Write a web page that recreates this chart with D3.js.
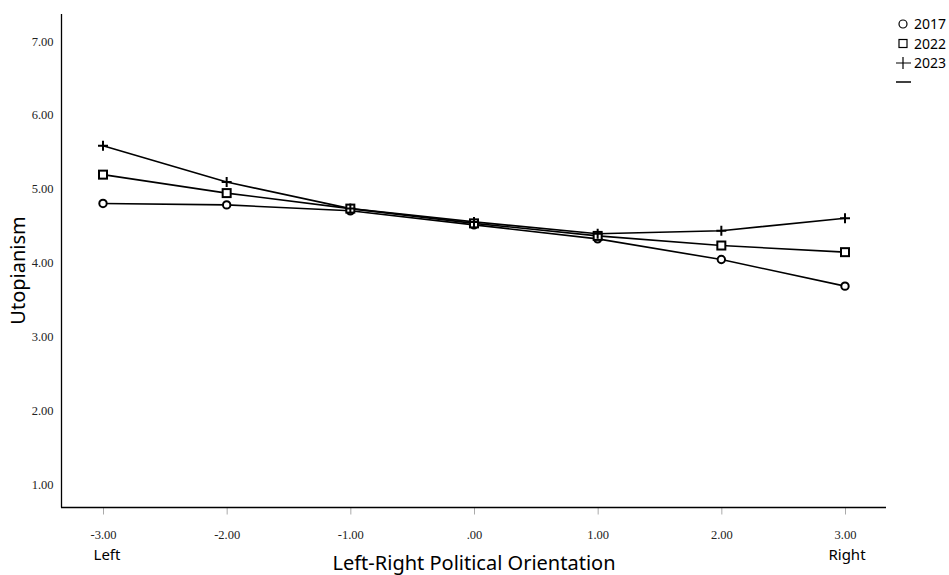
<!DOCTYPE html>
<html>
<head>
<meta charset="utf-8">
<script src="https://cdn.jsdelivr.net/npm/d3@7"></script>
<style>
  body { margin: 0; background: #fff; }
  svg { display: block; }
</style>
</head>
<body>
<svg id="chart" width="949" height="575"></svg>
<script>
// data
const xValues = [-3, -2, -1, 0, 1, 2, 3]
const years = ["2017", "2022", "2023"]
const v2017 = [4.80, 4.78, 4.70, 4.51, 4.32, 4.04, 3.68]
const v2022 = [5.19, 4.94, 4.73, 4.53, 4.36, 4.23, 4.14]
const v2023 = [5.58, 5.09, 4.73, 4.55, 4.39, 4.43, 4.60]
const yTicks = [1, 2, 3, 4, 5, 6, 7]

const svg = d3.select("#chart")
const margin = { left: 61, top: 14, right: 63, bottom: 68 }
const width = 949, height = 575

const xScale = d3.scaleLinear().domain([-3, 3]).range([103, 845])
const yScale = d3.scaleLinear().domain([1, 7]).range([484, 41])

const series = [
    { name: years[0], values: v2017, shape: "circle" },
    { name: years[1], values: v2022, shape: "square" },
    { name: years[2], values: v2023, shape: "plus" }
]

// SPSS style labels: plain hyphen, no leading zero
const fmt = d => d3.format(".2f")(d).replace("−", "-").replace(/^0\./, ".")

// axes
const xAxis = svg.append("g")
    .attr("transform", "translate(0," + (height - margin.bottom + 0.5) + ")")
    .call(d3.axisBottom(xScale).tickValues(xValues).tickSize(7).tickSizeOuter(0).tickFormat(fmt))
xAxis.select(".domain").remove()
xAxis.selectAll(".tick line").attr("stroke", "#aaa")
xAxis.selectAll(".tick text")
    .attr("y", 23)
    .attr("font-family", "'Liberation Serif', 'Times New Roman', serif")
    .attr("font-size", 12.5)
    .attr("fill", "#222")

const yAxis = svg.append("g")
    .attr("transform", "translate(" + (margin.left + 0.5) + ",0)")
    .call(d3.axisLeft(yScale).tickValues(yTicks).tickSize(0).tickFormat(fmt))
yAxis.select(".domain").remove()
yAxis.selectAll(".tick text")
    .attr("x", -8)
    .attr("font-family", "'Liberation Serif', 'Times New Roman', serif")
    .attr("font-size", 12.5)
    .attr("fill", "#222")

// frame lines
svg.append("line")
    .attr("x1", margin.left + 0.5).attr("x2", margin.left + 0.5)
    .attr("y1", margin.top).attr("y2", height - margin.bottom + 0.5)
    .attr("stroke", "#000").attr("stroke-width", 1.3)
svg.append("line")
    .attr("x1", margin.left).attr("x2", width - margin.right)
    .attr("y1", height - margin.bottom + 0.5).attr("y2", height - margin.bottom + 0.5)
    .attr("stroke", "#000").attr("stroke-width", 1.3)

// lines
const line = d3.line()
    .x((d, i) => xScale(xValues[i]))
    .y(d => yScale(d))

series.forEach(s => {
    svg.append("path")
        .datum(s.values)
        .attr("fill", "none")
        .attr("stroke", "#000")
        .attr("stroke-width", 1.6)
        .attr("d", line)
})

function drawMarker(g, shape, x, y) {
    if (shape == "circle") {
        g.append("circle").attr("cx", x).attr("cy", y).attr("r", 3.7)
            .attr("fill", "#fff").attr("stroke", "#000").attr("stroke-width", 2)
    } else if (shape == "square") {
        g.append("rect").attr("x", x - 4).attr("y", y - 4).attr("width", 8).attr("height", 8)
            .attr("fill", "#fff").attr("stroke", "#000").attr("stroke-width", 2)
    } else {
        g.append("path").attr("d", "M" + (x - 5) + "," + y + "H" + (x + 5) + "M" + x + "," + (y - 5) + "V" + (y + 5))
            .attr("stroke", "#000").attr("stroke-width", 2)
    }
}

series.forEach(s => {
    const g = svg.append("g")
    s.values.forEach((v, i) => drawMarker(g, s.shape, xScale(xValues[i]), yScale(v)))
})

// legend
const legend = svg.append("g")
series.forEach((s, i) => {
    const y = 24 + i * 19.5
    if (s.shape == "circle") {
        legend.append("circle").attr("cx", 903).attr("cy", y).attr("r", 4)
            .attr("fill", "none").attr("stroke", "#000").attr("stroke-width", 1.2)
    } else if (s.shape == "square") {
        legend.append("rect").attr("x", 899).attr("y", y - 4).attr("width", 8).attr("height", 8)
            .attr("fill", "none").attr("stroke", "#000").attr("stroke-width", 1.2)
    } else {
        legend.append("path").attr("d", "M896," + y + "H911M903," + (y - 6) + "V" + (y + 6))
            .attr("stroke", "#000").attr("stroke-width", 1.2)
    }
    legend.append("text")
        .attr("x", 914).attr("y", y + 5)
        .attr("font-family", "'Noto Sans', sans-serif")
        .attr("font-size", 14)
        .attr("fill", "#000")
        .text(s.name)
})
legend.append("line")
    .attr("x1", 896).attr("x2", 911).attr("y1", 82).attr("y2", 82)
    .attr("stroke", "#000").attr("stroke-width", 1.5)

// titles
svg.append("text")
    .attr("transform", "translate(25," + ((yScale(1) + yScale(7)) / 2 + 8) + ") rotate(-90)")
    .attr("text-anchor", "middle")
    .attr("font-family", "'Noto Sans', sans-serif")
    .attr("font-size", 20)
    .text("Utopianism")

svg.append("text")
    .attr("x", xScale(0)).attr("y", 570)
    .attr("text-anchor", "middle")
    .attr("font-family", "'Noto Sans', sans-serif")
    .attr("font-size", 20)
    .text("Left-Right Political Orientation")

svg.append("text")
    .attr("x", xScale(-3) + 4).attr("y", 560)
    .attr("text-anchor", "middle")
    .attr("font-family", "'Noto Sans', sans-serif")
    .attr("font-size", 15)
    .text("Left")

svg.append("text")
    .attr("x", xScale(3) + 2).attr("y", 560)
    .attr("text-anchor", "middle")
    .attr("font-family", "'Noto Sans', sans-serif")
    .attr("font-size", 15)
    .text("Right")
</script>
</body>
</html>
